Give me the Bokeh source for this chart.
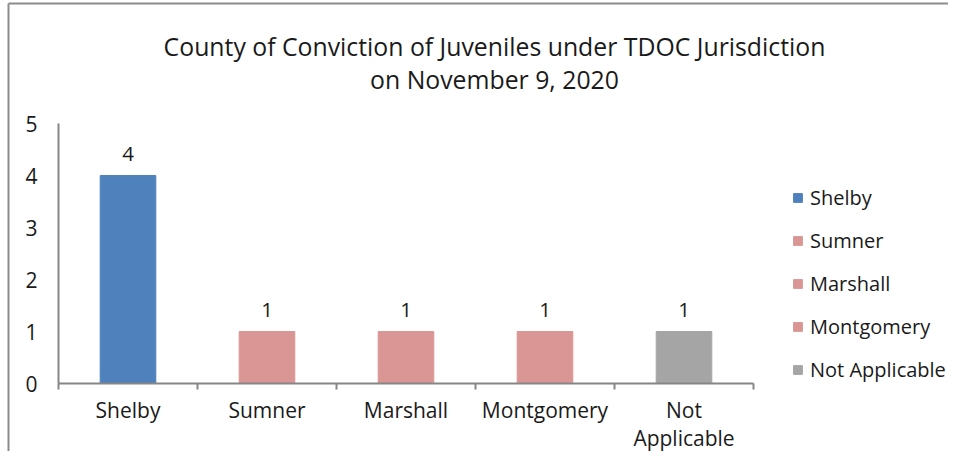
from bokeh.plotting import figure
from bokeh.models import ColumnDataSource, FixedTicker, Label, Range1d, Legend, LegendItem
from bokeh.core.properties import value
from bokeh.embed import file_html
from bokeh.resources import INLINE

counties = ["Shelby", "Sumner", "Marshall", "Montgomery", "Not Applicable"]
tick_labels = ["Shelby", "Sumner", "Marshall", "Montgomery", "Not\nApplicable"]
counts = [4, 1, 1, 1, 1]
colors = ["#4F81BD", "#D99694", "#D99694", "#D99694", "#A5A5A5"]
y_ticks = [0, 1, 2, 3, 4, 5]
title_lines = ["County of Conviction of Juveniles under TDOC Jurisdiction", "on November 9, 2020"]

FONT = "Open Sans"
TXT = "#1a1a1a"
AX = "#868686"
BORDER = "#8c8c8c"

# layout (pixels)
W, H = 948, 451
LEFT, TOP, AXIS_RIGHT, BOTTOM = 58, 123, 753, 383
TITLE_CX, TITLE_Y = 494, [45, 78]
n = len(counties)
y_max = y_ticks[-1]

def px_to_x(px):
    return n * (px - LEFT) / (AXIS_RIGHT - LEFT)

def px_to_y(py):
    return y_max * (BOTTOM - py) / (BOTTOM - TOP)

# the frame covers the whole canvas; axes are pinned at x=0 / y=0 and bounded to the data area
xs = [i + 0.5 for i in range(n)]
src = ColumnDataSource(dict(x=xs, county=counties, count=counts, color=colors,
                            label=[str(c) for c in counts]))

p = figure(width=W, height=H, output_backend="svg", toolbar_location=None,
           x_range=Range1d(px_to_x(0), px_to_x(W)), y_range=Range1d(px_to_y(H), px_to_y(0)),
           min_border_left=0, min_border_right=0, min_border_top=0, min_border_bottom=0)
p.title = None

# chart border (left and top edges)
p.segment(x0=[px_to_x(8), px_to_x(8)], y0=[px_to_y(3), px_to_y(3)],
          x1=[px_to_x(W + 10), px_to_x(8)], y1=[px_to_y(3), px_to_y(H + 10)],
          line_color=BORDER, line_width=2)

for line, ty in zip(title_lines, TITLE_Y):
    p.add_layout(Label(x=px_to_x(TITLE_CX), y=px_to_y(ty), text=line, text_align="center",
                       text_baseline="middle", text_font=FONT, text_font_size="24.8px",
                       text_color=TXT))

r = p.vbar(x="x", top="count", width=0.4, color="color", source=src)
p.text(x="x", y="count", text="label", source=src, text_align="center", text_baseline="bottom",
       y_offset=-15, text_font=value(FONT), text_font_size="20.5px", text_color=TXT)

p.grid.visible = False
p.outline_line_color = None

p.xaxis.fixed_location = 0
p.xaxis.bounds = (0, n)
p.xaxis.ticker = FixedTicker(ticks=xs, minor_ticks=list(range(n + 1)))
p.xaxis.major_label_overrides = {x: lab for x, lab in zip(xs, tick_labels)}
p.xaxis.minor_tick_line_color = AX
p.xaxis.minor_tick_out = 6
p.xaxis.minor_tick_in = 0
p.xaxis.major_label_standoff = 6
p.xaxis.major_label_text_line_height = 1.0

p.yaxis.fixed_location = 0
p.yaxis.bounds = (0, y_max)
p.yaxis.ticker = FixedTicker(ticks=y_ticks)
p.yaxis.major_tick_out = 5
p.yaxis.major_tick_in = 0
p.yaxis.minor_tick_line_color = None
p.yaxis.major_label_standoff = 16

for ax in (p.xaxis, p.yaxis):
    ax.axis_line_color = AX
    ax.axis_line_width = 2
    ax.major_tick_line_color = AX if ax is p.yaxis else None
    ax.major_tick_line_width = 2
    ax.minor_tick_line_width = 2
    ax.major_label_text_font = FONT
    ax.major_label_text_font_size = "21px"
    ax.major_label_text_color = TXT

lg = Legend(items=[LegendItem(label=c, renderers=[r], index=i) for i, c in enumerate(counties)],
            location=(792, H - BOTTOM))
lg.border_line_color = None
lg.background_fill_alpha = 0
lg.label_text_font = FONT
lg.label_text_font_size = "20px"
lg.label_text_color = TXT
lg.glyph_width = 11
lg.glyph_height = 11
lg.label_height = 23
lg.label_standoff = 7
lg.spacing = 16
lg.padding = 0
lg.margin = 0
p.add_layout(lg, "center")

open("out.html", "w").write(file_html(p, INLINE))
